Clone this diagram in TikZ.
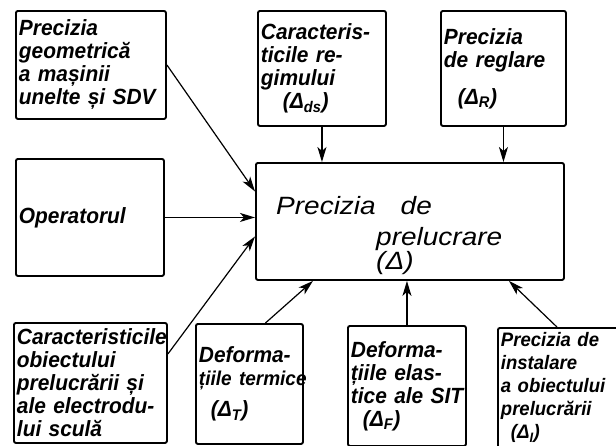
\documentclass[tikz,border=0pt]{standalone}
\usepackage{fontspec}
\setmainfont{Liberation Sans}
\newfontfamily\handfont[FakeStretch=0.95]{Liberation Sans}
\newfontfamily\mainhand[FakeStretch=1.12]{Liberation Sans}
\usetikzlibrary{arrows.meta,calc}
\tikzset{
  blk/.style={draw, line width=1.9pt, rounded corners=2pt, inner sep=3pt, align=left,
    anchor=north west, font=\handfont\bfseries\itshape\fontsize{22}{23}\selectfont},
  conn/.style={line width=1.2pt, -{Stealth[length=15pt,width=9pt,inset=4pt]}},
  maintext/.style={align=left, anchor=north west, inner sep=0pt,
    font=\mainhand\itshape\fontsize{25}{32}\selectfont}
}
\begin{document}
\begin{tikzpicture}[x=1pt,y=-1pt]
\useasboundingbox (0,0) rectangle (616,445);
\clip (0,0) rectangle (616,445);
% top row
\node[blk, minimum width=150pt, minimum height=108pt, text width=144pt] (b1) at (15,10)
  {Precizia\\geometrică\\a mașinii\\unelte și SDV};
\node[blk, minimum width=128pt, minimum height=115pt, text width=122pt] (b2) at (257,10)
  {Caracteris-\\ticile re-\\gimului\\\hspace*{22pt}(Δ\textsubscript{ds})};
\node[blk, minimum width=125pt, minimum height=115pt, text width=119pt] (b3) at (440,10)
  {Precizia\\de reglare\\[14pt]\hspace*{14pt}(Δ\textsubscript{R})};
% middle row
\node[blk, minimum width=148pt, minimum height=117pt, text width=142pt] (op) at (15,158)
  {Operatorul};
\node[draw, line width=1.9pt, rounded corners=2pt, anchor=north west,
  minimum width=308pt, minimum height=117pt] (main) at (255,162) {};
\node[maintext] (mt) at (276,196) {Precizia\quad de\\[-1pt]\hspace*{100pt}prelucrare\\[-8pt]\hspace*{100pt}(Δ)};
% bottom row
\node[blk, minimum width=153pt, minimum height=120pt, text width=147pt] (ba) at (13,322)
  {Caracteristicile\\obiectului\\prelucrării și\\ale electrodu-\\lui sculă};
\node[blk, minimum width=107pt, minimum height=120pt, text width=101pt] (bb) at (195,323)
  {Deforma-\\\mbox{\fontsize{20}{23}\selectfont țiile termice}\\[8pt]\hspace*{12pt}(Δ\textsubscript{T})};
\node[blk, minimum width=118pt, minimum height=120pt, text width=112pt] (bc) at (347,325)
  {Deforma-\\țiile elas-\\\mbox{tice ale SIT}\\\hspace*{12pt}(Δ\textsubscript{F})};
\node[blk, minimum width=140pt, minimum height=120pt, text width=134pt,
  font=\handfont\bfseries\itshape\fontsize{19.5}{23}\selectfont] (bd) at (497,327)
  {Precizia de\\instalare\\a obiectului\\prelucrării\\\hspace*{10pt}(Δ\textsubscript{I})};
% connectors
\draw[conn] (b1.east) -- ([yshift=30pt]main.west);
\draw[conn] (op.east) -- (op.east -| main.west);
\draw[conn] (b2.south) -- (b2.south |- main.north);
\draw[conn] (b3.south) -- (b3.south |- main.north);
\draw[conn] ([yshift=29pt]ba.east) -- ([yshift=-15pt]main.west);
\draw[conn] ([xshift=16pt]bb.north) -- ([xshift=-97pt]main.south);
\draw[conn] (bc.north) -- (bc.north |- main.south);
\draw[conn] ([xshift=-11pt]bd.north) -- ([xshift=99pt]main.south);
\end{tikzpicture}
\end{document}
